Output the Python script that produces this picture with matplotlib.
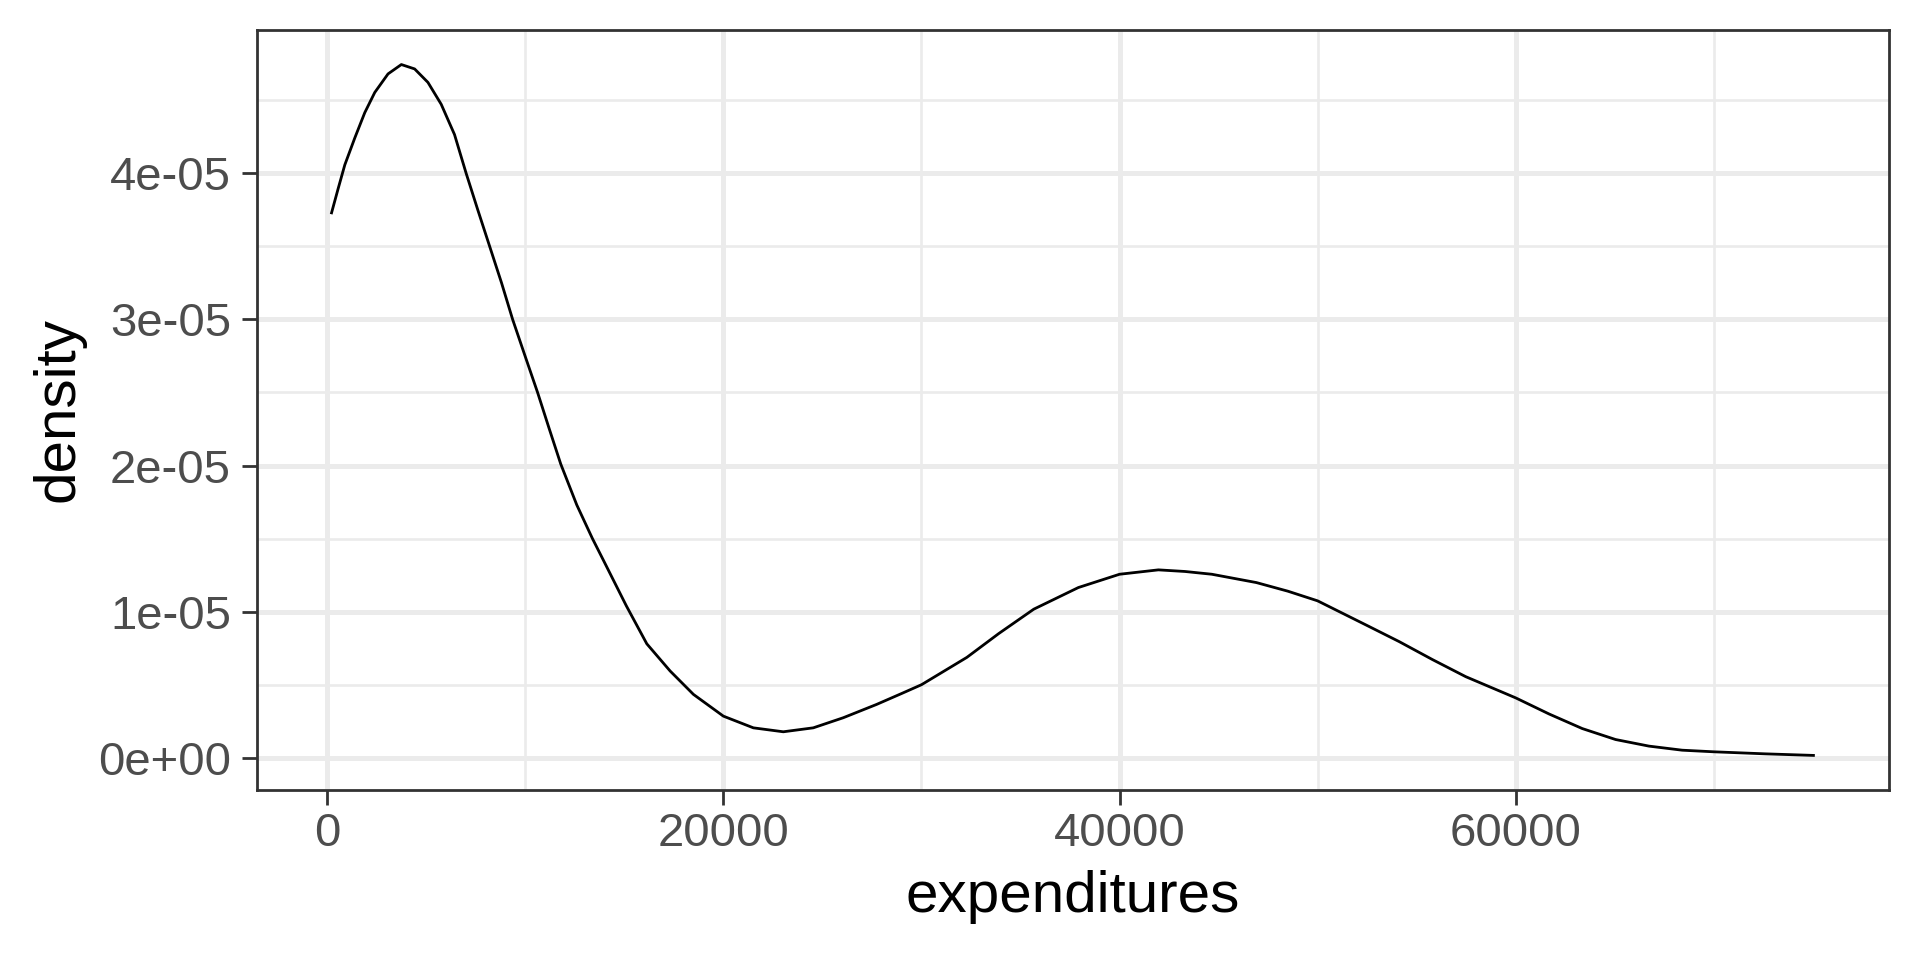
import matplotlib
matplotlib.use("Agg")
import matplotlib.pyplot as plt
from matplotlib.ticker import FixedLocator

plt.rcParams['font.family'] = ['Liberation Sans', 'DejaVu Sans']

# density curve values (x in expenditures, y in units of 1e-5)
expenditures = [200, 554, 889, 1393, 1896, 2400, 3070, 3742, 4413, 5084, 5755,
                6426, 7013, 7600, 8200, 8800, 9360, 10000, 10620, 11200, 11790,
                12600, 13390, 13950, 15100, 16134, 17311, 18487, 20000, 21513,
                23025, 24538, 26050, 27731, 29000, 30000, 32290, 33900, 35670,
                37920, 40000, 41960, 43300, 44660, 46910, 48500, 50000, 52530,
                54118, 55798, 57479, 60000, 61681, 63361, 65042, 66723, 68403,
                70000, 72605, 75100]
density_e5 = [3.72, 3.896, 4.058, 4.242, 4.415, 4.553, 4.68, 4.744, 4.714, 4.622, 4.472,
              4.265, 4.00, 3.75, 3.50, 3.25, 3.00, 2.745, 2.50, 2.255, 2.01,
              1.73, 1.50, 1.35, 1.04, 0.78, 0.594, 0.434, 0.285, 0.205,
              0.178, 0.205, 0.274, 0.365, 0.44, 0.50, 0.687, 0.85, 1.017,
              1.165, 1.256, 1.286, 1.275, 1.256, 1.199, 1.14, 1.074, 0.903,
              0.795, 0.672, 0.555, 0.41, 0.30, 0.200, 0.125, 0.080, 0.052,
              0.041, 0.027, 0.016]
density = [v * 1e-5 for v in density_e5]

x_major = [0, 20000, 40000, 60000]
x_labels = ["0", "20000", "40000", "60000"]
x_minor = [10000, 30000, 50000, 70000]
y_major = [0, 1e-5, 2e-5, 3e-5, 4e-5]
y_labels = ["0e+00", "1e-05", "2e-05", "3e-05", "4e-05"]
y_minor = [0.5e-5, 1.5e-5, 2.5e-5, 3.5e-5, 4.5e-5]

fig = plt.figure(figsize=(19.2, 9.6), dpi=100)
ax = fig.add_axes([257 / 1920, 170 / 960, (1889 - 257) / 1920, (790 - 30) / 960])

ax.plot(expenditures, density, color='black', linewidth=2.0,
        solid_capstyle='butt', solid_joinstyle='round', zorder=3)

xmin, xmax = min(expenditures), max(expenditures)
xr = xmax - xmin
ax.set_xlim(xmin - 0.05 * xr, xmax + 0.05 * xr)
ymin, ymax = min(density), max(density)
yr = ymax - ymin
ax.set_ylim(ymin - 0.05 * yr, ymax + 0.05 * yr)

ax.xaxis.set_major_locator(FixedLocator(x_major))
ax.set_xticklabels(x_labels)
ax.xaxis.set_minor_locator(FixedLocator(x_minor))
ax.yaxis.set_major_locator(FixedLocator(y_major))
ax.set_yticklabels(y_labels)
ax.yaxis.set_minor_locator(FixedLocator(y_minor))

ax.grid(which='major', color='#EBEBEB', linewidth=3.6, zorder=0)
ax.grid(which='minor', color='#EBEBEB', linewidth=1.9, zorder=0)
ax.set_axisbelow(True)

for s in ax.spines.values():
    s.set_color('#333333')
    s.set_linewidth(2.0)

ax.tick_params(which='major', length=10.8, width=2.0, color='#333333',
               labelsize=34, labelcolor='#4D4D4D')
ax.tick_params(axis='y', which='major', pad=8)
ax.tick_params(axis='x', which='major', pad=5)
ax.tick_params(which='minor', length=0)

ax.set_xlabel("expenditures", fontsize=42, color='black', labelpad=10)
ax.set_ylabel("density", fontsize=42, color='black', labelpad=9)

fig.savefig("out.png", dpi=100, facecolor='white')
